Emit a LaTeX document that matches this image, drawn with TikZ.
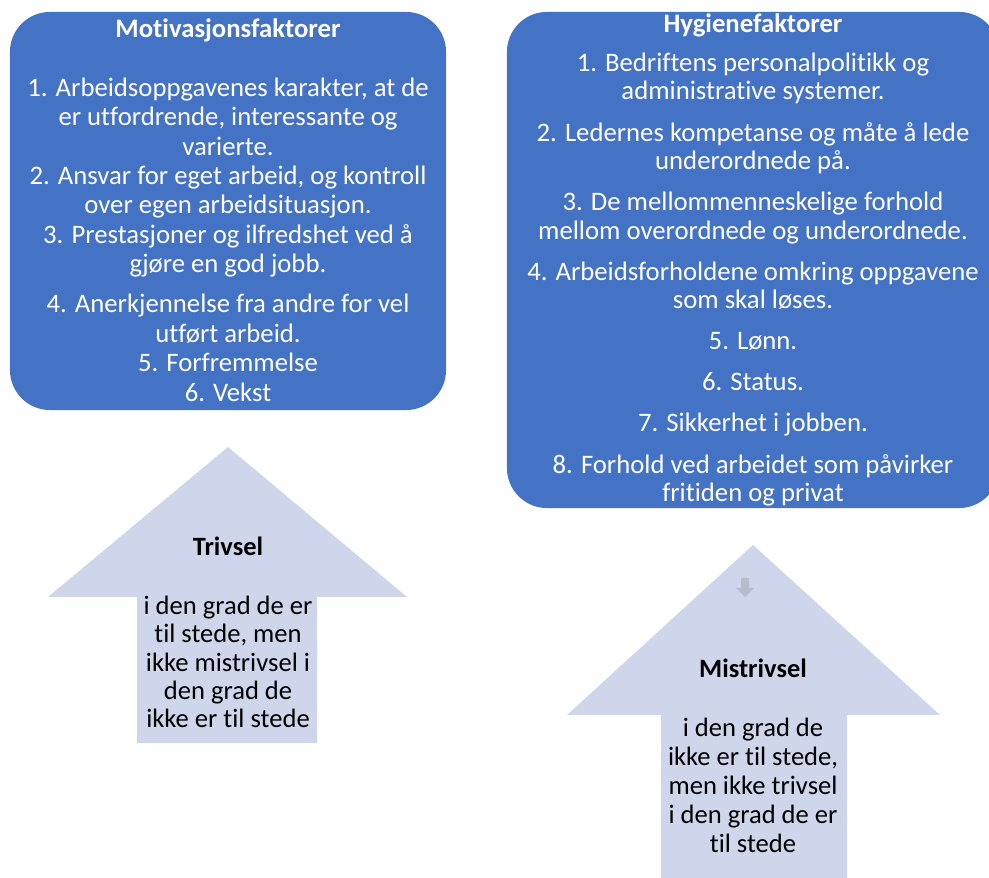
\documentclass[tikz,border=0pt]{standalone}
\usepackage{fontspec}
\setmainfont{Carlito}[Ligatures=NoCommon]
\usetikzlibrary{positioning}
\definecolor{boxblue}{HTML}{4472C4}
\definecolor{arrowfill}{HTML}{CFD5EA}
\definecolor{smallarrow}{HTML}{B6BCCE}
\tikzset{
  factorbox/.style={fill=boxblue, rounded corners=1cm, inner sep=0pt},
  boxhead/.style={text=white, font=\fontsize{19}{22}\selectfont\bfseries},
  boxtext/.style={text=white, align=center, font=\fontsize{19}{20.9}\selectfont},
  arrowhead/.style={font=\fontsize{18.8}{22}\selectfont\bfseries},
  arrowtext/.style={align=center, font=\fontsize{18.9}{20.2}\selectfont},
}
\begin{document}
\begin{tikzpicture}[x=0.025cm, y=-0.025cm]
      \useasboundingbox (0,0) rectangle (989,878);
      \clip (0,0) rectangle (989,878);
      % the two factor boxes
      \node[factorbox, minimum width=10.9cm, minimum height=9.95cm] (motbox) at (228,211) {};
      \node[factorbox, minimum width=12.3cm, minimum height=12.4cm] (hygbox) at (753,260) {};
      \node[boxhead] (mottitle) at (228,30) {Motivasjonsfaktorer};
      \node[boxtext] (mottext) at (228,239.5) {1. Arbeidsoppgavenes karakter, at de\\
        er utfordrende, interessante og\\ varierte.\\
        2. Ansvar for eget arbeid, og kontroll\\ over egen arbeidsituasjon.\\
        3. Prestasjoner og ilfredshet ved å\\ gjøre en god jobb.\\[7.8pt]
        4. Anerkjennelse fra andre for vel\\ utført arbeid.\\
        5. Forfremmelse\\ 6. Vekst};
      \node[boxhead] (hygtitle) at (753,25) {Hygienefaktorer};
      \node[boxtext, font=\fontsize{19}{20.3}\selectfont] (hygtext) at (753,279.5) {1. Bedriftens personalpolitikk og\\ administrative systemer.\\[8.9pt]
        2. Ledernes kompetanse og måte å lede\\ underordnede på.\\[8.9pt]
        3. De mellommenneskelige forhold\\ mellom overordnede og underordnede.\\[8.9pt]
        4. Arbeidsforholdene omkring oppgavene\\ som skal løses.\\[8.9pt]
        5. Lønn.\\[8.9pt]
        6. Status.\\[8.9pt]
        7. Sikkerhet i jobben.\\[8.9pt]
        8. Forhold ved arbeidet som påvirker\\ fritiden og privat};
      % the two arrows
      \fill[arrowfill] (228,447) -- (407,597) -- (317,597) -- (317,743)
        -- (137,743) -- (137,597) -- (48,597) -- cycle;
      \fill[arrowfill] (753,545) -- (940,715) -- (847,715) -- (847,880)
        -- (661,880) -- (661,715) -- (567,715) -- cycle;
      \fill[smallarrow] (741,578) -- (749,578) -- (749,588) -- (754,588)
        -- (745,597) -- (736,588) -- (741,588) -- cycle;
      \node[arrowhead] (trivtitle) at (228,546) {Trivsel};
      \node[arrowtext] (trivtext) at (228,662) {i den grad de er\\ til stede, men\\
        ikke mistrivsel i\\ den grad de\\ ikke er til stede};
      \node[arrowhead] (mistitle) at (753,668) {Mistrivsel};
      \node[arrowtext, font=\fontsize{18.9}{20.6}\selectfont] (mistext) at (753,785) {i den grad de\\
        ikke er til stede,\\ men ikke trivsel\\ i den grad de er\\ til stede};
    \end{tikzpicture}
\end{document}
